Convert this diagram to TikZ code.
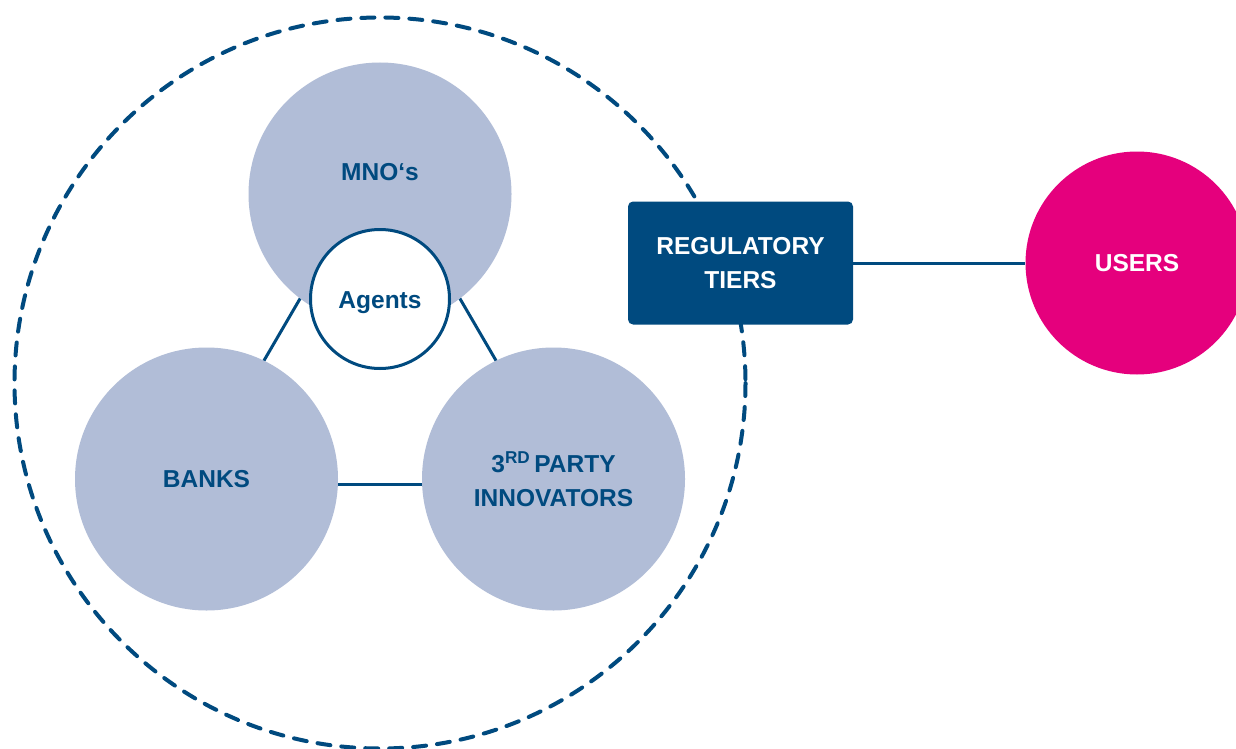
\documentclass[tikz,border=0pt]{standalone}
\usepackage{fontspec}
\setmainfont{Liberation Sans}
\definecolor{dblue}{HTML}{004A7F}
\definecolor{lblue}{HTML}{B1BDD7}
\definecolor{mag}{HTML}{E5007D}
\begin{document}
\begin{tikzpicture}[x=1pt,y=-1pt]
\tikzset{
  lbl/.style={font=\fontsize{24.5}{34.5}\selectfont\bfseries, align=center},
  bigc/.style={circle, fill=lblue, minimum size=263pt, inner sep=0pt, text=dblue, lbl},
  agentc/.style={circle, fill=white, draw=dblue, line width=3pt, minimum size=139pt, inner sep=0pt, text=dblue, lbl},
  regbox/.style={rectangle, rounded corners=5pt, fill=dblue, minimum width=225pt, minimum height=123pt, inner sep=0pt, text=white, lbl},
  userc/.style={circle, fill=mag, minimum size=223pt, inner sep=0pt, text=white, lbl},
  conn/.style={draw=dblue, line width=3pt},
  dashring/.style={draw=dblue, line width=4pt, dash pattern=on 13pt off 11pt, line cap=round},
}
\useasboundingbox (0,0) rectangle (1236,749);
\fill[white] (0,0) rectangle (1236,749);
% dashed ring
\coordinate (ringc) at (380,383);
\draw[dashring] (ringc) circle[radius=365.5];
% connector end points behind circles
\coordinate (mnoL) at (361,194);
\coordinate (mnoR) at (399,194);
\coordinate (bankP) at (195,479);
\coordinate (partyP) at (565,479);
\draw[conn] (mnoL) -- (bankP);
\draw[conn] (mnoR) -- (partyP);
% circles
\node[bigc] (mno) at (380,194) {};
\node[lbl, text=dblue] (mnotxt) at (380,172) {MNO‘s};
\node[bigc] (banks) at (206.5,479) {BANKS};
\node[bigc] (party) at (553.5,479) {3\textsuperscript{RD}\,PARTY\\INNOVATORS};
\draw[conn] ([yshift=-5pt]banks.east) -- ([yshift=-5pt]party.west);
\node[agentc] (agents) at (380,299) {};
\node[lbl, text=dblue] (agtxt) at (380,303) {Agents};
% regulatory tiers
\node[regbox] (reg) at (740.5,263) {REGULATORY\\TIERS};
\node[userc] (users) at (1137,263) {USERS};
\draw[conn] (reg.east) -- (users.west);
\end{tikzpicture}
\end{document}
